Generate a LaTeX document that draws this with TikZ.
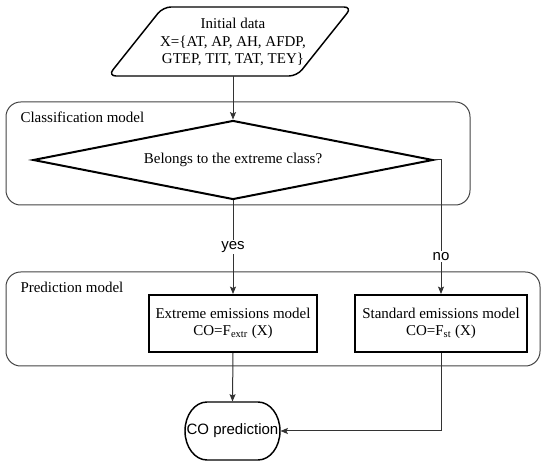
\documentclass[tikz,border=0pt]{standalone}
\usepackage{fontspec}
\setmainfont{Liberation Serif}
\newfontfamily\lblfont{Liberation Sans}
\usetikzlibrary{shapes.geometric,arrows.meta}

\newcommand{\diagfont}{\fontsize{11.25}{13}\selectfont}

\tikzset{every picture/.style={line width=0.75pt}}
\tikzset{
  conn/.style={draw={rgb, 255:red, 51; green, 51; blue, 51 }, -{Stealth[length=5.5pt,width=4.5pt,inset=1pt]}},
  group/.style={draw={rgb, 255:red, 68; green, 68; blue, 68 }, rounded corners=11pt},
  grouptitle/.style={anchor=west, inner sep=0pt, font=\diagfont},
  modelbox/.style={draw, line width=1.5pt, minimum height=42.75pt, align=center, inner sep=0pt, font=\diagfont},
  decision/.style={diamond, draw, line width=1.5pt, aspect=5, minimum width=300pt, minimum height=59.25pt, inner sep=1pt, font=\diagfont},
  answer/.style={fill=white, inner sep=1pt, font=\lblfont\diagfont},
}

\begin{document}
\begin{tikzpicture}[x=0.75pt,y=0.75pt,yscale=-1,xscale=1]
\useasboundingbox (0,0) rectangle (550,466);

%Shape: Rounded Rect
\draw [group] (6,102) rectangle (470,205) ;
\node [grouptitle] (clstitle) at (20,117) {Classification model};
%Shape: Rounded Rect
\draw [group] (6,272) rectangle (540,366) ;
\node [grouptitle] (predtitle) at (20,287) {Prediction model};

%Shape: Parallelogram
\draw [line width=1.1pt, rounded corners=6pt] (163,7) -- (352,7) -- (297,76) -- (108,76) -- cycle ;
\node [align=center, minimum height=51pt, inner sep=0pt, font=\diagfont] (data) at (233,42) {Initial data\\X=\{AT, AP, AH, AFDP,\\GTEP, TIT, TAT, TEY\}};

%Shape: Diamond
\node [decision] (cls) at (233,160) {Belongs to the extreme class?};

%Shape: Rectangle
\node [modelbox, minimum width=126pt] (ext) at (233,323.5) {Extreme emissions model\\CO=F\textsubscript{extr} (X)};
%Shape: Rectangle
\node [modelbox, minimum width=129pt] (std) at (441,323.5) {Standard emissions model\\CO=F\textsubscript{st} (X)};

%Shape: Terminator
\draw [line width=1.1pt] (207,402) -- (258,402) .. controls (270.15,402) and (280,414.98) .. (280,431) .. controls (280,447.02) and (270.15,460) .. (258,460) -- (207,460) .. controls (194.85,460) and (185,447.02) .. (185,431) .. controls (185,414.98) and (194.85,402) .. (207,402) -- cycle ;
\node [minimum width=71.25pt, minimum height=43.5pt, inner sep=0pt, font=\lblfont\diagfont] (pred) at (232.5,431) {\makebox[0pt]{CO prediction}};

%Connectors
\draw [conn] (data.south) -- (cls.north) ;
\draw [conn] (cls.south) -- node [answer] (yes) {yes} (ext.north) ;
\draw [conn] (cls.east) -| node [answer, pos=0.86] (no) {no} (std.north) ;
\draw [conn] (ext.south) -- (pred.north) ;
\draw [conn] (std.south) |- (pred.east) ;

\end{tikzpicture}
\end{document}
